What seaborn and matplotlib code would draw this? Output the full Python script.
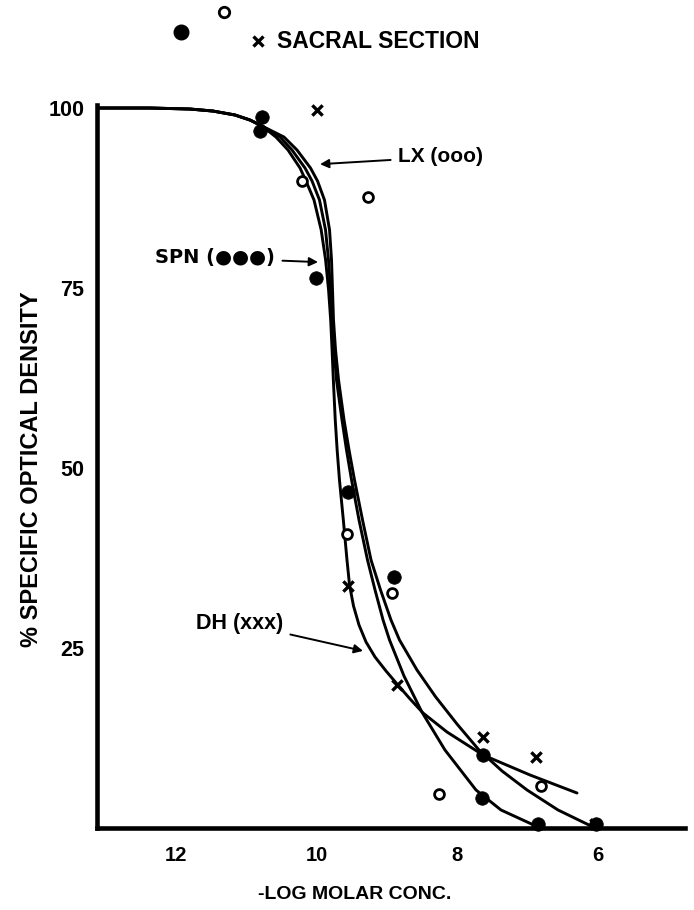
import matplotlib
matplotlib.use("Agg")
import matplotlib.pyplot as plt
import seaborn as sns
import pandas as pd
from matplotlib.lines import Line2D

# ---- data (x = -log molar conc., y = % specific optical density) ----
common_x = [13.124, 12.370, 11.801, 11.474, 11.161, 10.947, 10.777]
common_y = [100.0, 100.0, 99.86, 99.58, 99.03, 98.33, 97.5]

dh_curve_x = [10.578, 10.407, 10.236, 10.151, 10.037, 9.935, 9.872, 9.830, 9.800, 9.780,
              9.762, 9.735, 9.708, 9.675, 9.620, 9.568, 9.532, 9.475, 9.397, 9.297,
              9.169, 9.013, 8.856, 8.671, 8.486, 8.145, 7.633, 6.964, 6.296]
dh_curve_y = [95.97, 94.17, 91.67, 89.86, 87.22, 83.06, 78.89, 74.72, 70.56, 66.39,
              62.22, 56.67, 52.5, 48.33, 42.78, 37.22, 33.75, 30.83, 28.19, 25.83,
              23.75, 21.81, 20.0, 17.92, 15.97, 13.33, 10.14, 7.36, 4.86]

spn_curve_x = [10.521, 10.350, 10.165, 10.065, 9.959, 9.873, 9.831, 9.802, 9.781, 9.752,
               9.717, 9.639, 9.575, 9.503, 9.397, 9.276, 9.169, 9.055, 8.963, 8.757,
               8.505, 8.174, 7.733, 7.377, 6.851]
spn_curve_y = [95.97, 94.17, 91.67, 89.86, 87.22, 83.06, 78.89, 74.72, 70.56, 66.39,
               62.22, 56.67, 52.5, 48.33, 42.78, 37.22, 33.06, 28.89, 26.11, 21.11,
               16.15, 10.83, 5.28, 2.5, 0.14]

lx_curve_x = [10.464, 10.279, 10.087, 9.987, 9.888, 9.816, 9.788, 9.774, 9.760, 9.731,
              9.688, 9.610, 9.539, 9.461, 9.347, 9.226, 9.091, 8.942, 8.821, 8.572,
              8.309, 8.003, 7.690, 7.363, 7.007, 6.566, 6.068]
lx_curve_y = [95.97, 94.17, 91.67, 89.86, 87.22, 83.06, 78.89, 74.72, 70.56, 66.39,
              62.22, 56.67, 52.5, 48.33, 42.78, 37.22, 33.06, 28.89, 26.11, 21.94,
              18.24, 14.44, 10.83, 7.92, 5.28, 2.5, 0.14]

spn_pts_x = [10.78, 10.81, 10.01, 9.55, 8.90, 7.64, 7.65, 6.85, 6.02]
spn_pts_y = [98.75, 96.8, 76.4, 46.6, 34.8, 10.1, 4.1, 0.6, 0.5]

lx_pts_x = [10.21, 9.27, 9.57, 8.93, 8.26, 6.81]
lx_pts_y = [89.9, 87.7, 40.8, 32.6, 4.7, 5.8]

dh_pts_x = [10.00, 9.55, 8.86, 7.63, 6.88, 6.04]
dh_pts_y = [99.7, 33.6, 19.9, 12.7, 9.8, 0.6]

x_ticks = [12, 10, 8, 6]
y_ticks = [25, 50, 75, 100]

# ---- tables ----
curves = pd.concat([
    pd.DataFrame({"x": common_x + dh_curve_x, "y": common_y + dh_curve_y, "curve": "DH"}),
    pd.DataFrame({"x": common_x + spn_curve_x, "y": common_y + spn_curve_y, "curve": "SPN"}),
    pd.DataFrame({"x": common_x + lx_curve_x, "y": common_y + lx_curve_y, "curve": "LX"}),
], ignore_index=True)
spn_pts = pd.DataFrame({"x": spn_pts_x, "y": spn_pts_y})
lx_pts = pd.DataFrame({"x": lx_pts_x, "y": lx_pts_y})
dh_pts = pd.DataFrame({"x": dh_pts_x, "y": dh_pts_y})

sns.set_theme(style="white")
plt.rcParams['font.family'] = ['Liberation Sans', 'DejaVu Sans']
plt.rcParams['font.weight'] = 'bold'
plt.rcParams['text.color'] = 'black'
plt.rcParams['axes.labelcolor'] = 'black'
plt.rcParams['xtick.color'] = 'black'
plt.rcParams['ytick.color'] = 'black'

fig = plt.figure(figsize=(6.94, 9.10), dpi=100)
W, H = 694, 910
ax = fig.add_axes([97 / W, 1 - 828 / H, (685 - 97) / W, (828 - 105) / H])

sns.lineplot(data=curves, x="x", y="y", units="curve", estimator=None, sort=False,
             color="black", lw=2.1, ax=ax, zorder=2)
for ln in ax.lines:
    ln.set_solid_joinstyle("round")
    ln.set_solid_capstyle("round")
sns.scatterplot(data=spn_pts, x="x", y="y", marker="o", s=95, color="black",
                edgecolor="black", linewidth=0.5, ax=ax, zorder=4, clip_on=False)
sns.scatterplot(data=lx_pts, x="x", y="y", marker="o", s=50, facecolor="white",
                edgecolor="black", linewidth=2.0, ax=ax, zorder=4, clip_on=False)
sns.scatterplot(data=dh_pts, x="x", y="y", marker="x", s=55, color="black",
                linewidth=2.4, ax=ax, zorder=4, clip_on=False)

ax.set_xlim(13.124, 4.760)
ax.set_ylim(0, 100.42)
ax.set_xticks(x_ticks)
ax.set_yticks(y_ticks)
ax.set_xticklabels([str(t) for t in x_ticks])
ax.set_yticklabels([str(t) for t in y_ticks])
ax.tick_params(axis="both", length=0, colors="black", labelcolor="black")
ax.tick_params(axis="x", pad=13, labelsize=14.5)
ax.tick_params(axis="y", pad=9, labelsize=15.5)
for lab in ax.get_xticklabels() + ax.get_yticklabels():
    lab.set_fontweight("bold")
    lab.set_color("black")

for side in ["top", "right"]:
    ax.spines[side].set_visible(False)
for side in ["left", "bottom"]:
    ax.spines[side].set_linewidth(3.3)
    ax.spines[side].set_color("black")
    ax.spines[side].set_zorder(3)

ax.set_xlabel("-LOG MOLAR CONC.", fontsize=14, fontweight="bold", color="black")
ax.set_ylabel("% SPECIFIC OPTICAL DENSITY", fontsize=17, fontweight="bold", color="black")
ax.xaxis.set_label_coords(0.4388, -0.080)
ax.yaxis.set_label_coords(-0.091, 0.496)

arrow = dict(arrowstyle="-|>", color="black", lw=1.4, mutation_scale=13, shrinkA=3, shrinkB=0)
ax.annotate("LX (ooo)", xy=(9.952, 92.2), xytext=(8.842, 93.2), ha="left", va="center",
            fontsize=15, fontweight="bold", color="black", arrowprops=arrow)
ax.annotate("SPN (\u25cf\u25cf\u25cf)", xy=(9.98, 78.6), xytext=(10.592, 79.17), ha="right",
            va="center", fontsize=14, fontweight="bold", family=["DejaVu Sans"],
            color="black", arrowprops=arrow)
ax.annotate("DH (xxx)", xy=(9.34, 24.6), xytext=(10.478, 28.47), ha="right", va="center",
            fontsize=15.5, fontweight="bold", color="black", arrowprops=arrow)

# heading key
fig.add_artist(Line2D([181 / W], [1 - 32 / H], transform=fig.transFigure, marker="o",
                      markersize=10.5, color="black", linestyle="none"))
fig.add_artist(Line2D([224 / W], [1 - 12 / H], transform=fig.transFigure, marker="o",
                      markersize=7.5, markerfacecolor="white", markeredgecolor="black",
                      markeredgewidth=2.0, linestyle="none"))
fig.add_artist(Line2D([258 / W], [1 - 41 / H], transform=fig.transFigure, marker="x",
                      markersize=7.5, markeredgewidth=2.4, color="black", linestyle="none"))
fig.text(277 / W, 1 - 41 / H, "SACRAL SECTION", ha="left", va="center", fontsize=16.5,
         fontweight="bold", color="black")

fig.savefig("out.png", dpi=100, facecolor="white")
